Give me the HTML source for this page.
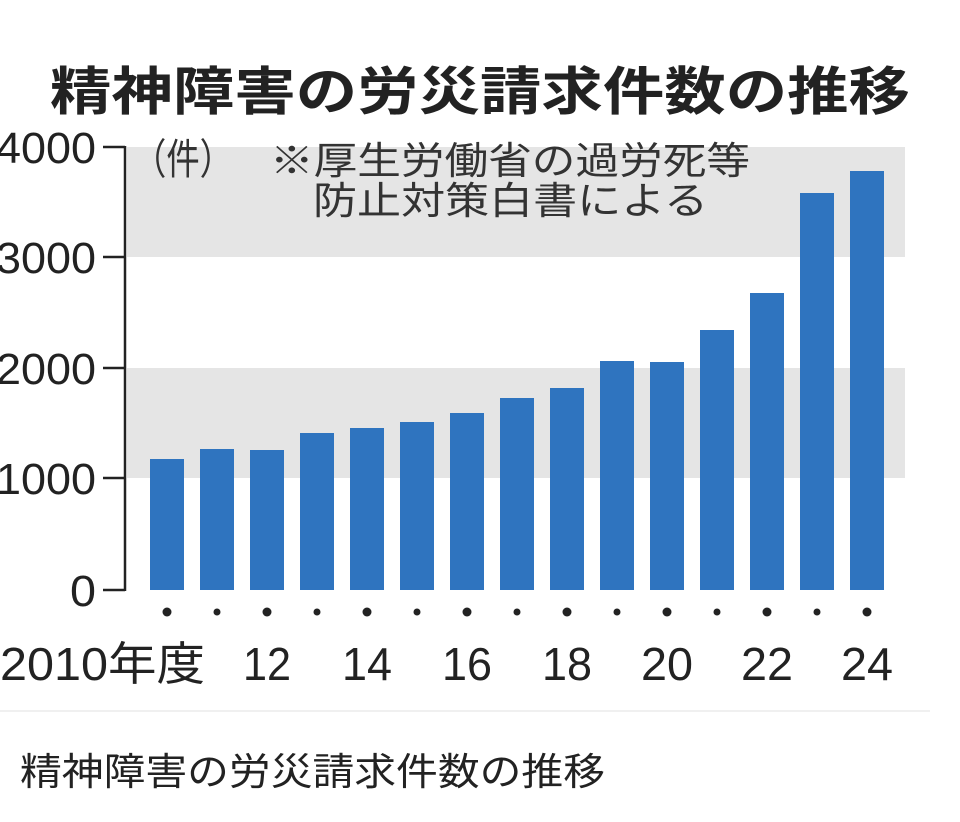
<!DOCTYPE html>
<html><head><meta charset="utf-8"><style>
html,body{margin:0;padding:0;background:#fff;}
svg{display:block;}
</style></head><body>
<svg width="960" height="822" viewBox="0 0 960 822" xmlns="http://www.w3.org/2000/svg" font-family="'Liberation Sans','Noto Sans CJK JP',sans-serif">
<rect x="0" y="0" width="960" height="822" fill="#fff"/>
<line x1="0" y1="711" x2="930" y2="711" stroke="#f0f0f0" stroke-width="2"/>
<text x="480" y="110" text-anchor="middle" font-size="52" font-weight="bold" fill="#222" textLength="860" lengthAdjust="spacingAndGlyphs">精神障害の労災請求件数の推移</text>
<rect x="127" y="147" width="778" height="110" fill="#e5e5e5"/>
<rect x="127" y="368" width="778" height="110" fill="#e5e5e5"/>
<g stroke="#222" stroke-width="2.5" fill="none">
<line x1="125" y1="146" x2="125" y2="591"/>
<line x1="103" y1="147" x2="125" y2="147"/>
<line x1="103" y1="257" x2="125" y2="257"/>
<line x1="103" y1="368" x2="125" y2="368"/>
<line x1="103" y1="478" x2="125" y2="478"/>
<line x1="103" y1="590" x2="125" y2="590"/>
</g>
<g font-size="44" fill="#222" text-anchor="end">
<text x="96" y="163" textLength="100" lengthAdjust="spacingAndGlyphs">4000</text>
<text x="96" y="273" textLength="100" lengthAdjust="spacingAndGlyphs">3000</text>
<text x="96" y="384" textLength="100" lengthAdjust="spacingAndGlyphs">2000</text>
<text x="96" y="494" textLength="100" lengthAdjust="spacingAndGlyphs">1000</text>
<text x="96" y="606" textLength="26" lengthAdjust="spacingAndGlyphs">0</text>
</g>
<g font-size="38" fill="#333">
<text x="133" y="174" font-size="42" textLength="100" lengthAdjust="spacingAndGlyphs">（件）</text>
<text x="270" y="174" textLength="480" lengthAdjust="spacingAndGlyphs">※厚生労働省の過労死等</text>
<text x="313" y="214" textLength="395" lengthAdjust="spacingAndGlyphs">防止対策白書による</text>
</g>
<g fill="#2f74bf">
<rect x="150" y="459" width="34" height="131"/>
<rect x="200" y="449" width="34" height="141"/>
<rect x="250" y="450" width="34" height="140"/>
<rect x="300" y="433" width="34" height="157"/>
<rect x="350" y="428" width="34" height="162"/>
<rect x="400" y="422" width="34" height="168"/>
<rect x="450" y="413" width="34" height="177"/>
<rect x="500" y="398" width="34" height="192"/>
<rect x="550" y="388" width="34" height="202"/>
<rect x="600" y="361" width="34" height="229"/>
<rect x="650" y="362" width="34" height="228"/>
<rect x="700" y="330" width="34" height="260"/>
<rect x="750" y="293" width="34" height="297"/>
<rect x="800" y="193" width="34" height="397"/>
<rect x="850" y="171" width="34" height="419"/>
</g>
<g fill="#222">
<circle cx="167" cy="612" r="4.5"/><circle cx="217" cy="612" r="3.5"/>
<circle cx="267" cy="612" r="4.5"/><circle cx="317" cy="612" r="3.5"/>
<circle cx="367" cy="612" r="4.5"/><circle cx="417" cy="612" r="3.5"/>
<circle cx="467" cy="612" r="4.5"/><circle cx="517" cy="612" r="3.5"/>
<circle cx="567" cy="612" r="4.5"/><circle cx="617" cy="612" r="3.5"/>
<circle cx="667" cy="612" r="4.5"/><circle cx="717" cy="612" r="3.5"/>
<circle cx="767" cy="612" r="4.5"/><circle cx="817" cy="612" r="3.5"/>
<circle cx="867" cy="612" r="4.5"/>
</g>
<g font-size="46" fill="#222">
<text x="0" y="680" textLength="205" lengthAdjust="spacingAndGlyphs">2010年度</text>
<g text-anchor="middle">
<text x="267" y="680" textLength="48" lengthAdjust="spacingAndGlyphs">12</text>
<text x="367" y="680" textLength="50" lengthAdjust="spacingAndGlyphs">14</text>
<text x="467" y="680" textLength="50" lengthAdjust="spacingAndGlyphs">16</text>
<text x="567" y="680" textLength="50" lengthAdjust="spacingAndGlyphs">18</text>
<text x="667" y="680" textLength="52" lengthAdjust="spacingAndGlyphs">20</text>
<text x="767" y="680" textLength="52" lengthAdjust="spacingAndGlyphs">22</text>
<text x="867" y="680" textLength="52" lengthAdjust="spacingAndGlyphs">24</text>
</g>
</g>
<text x="20" y="785" font-size="38" fill="#222" textLength="585" lengthAdjust="spacingAndGlyphs">精神障害の労災請求件数の推移</text>
</svg>
</body></html>
